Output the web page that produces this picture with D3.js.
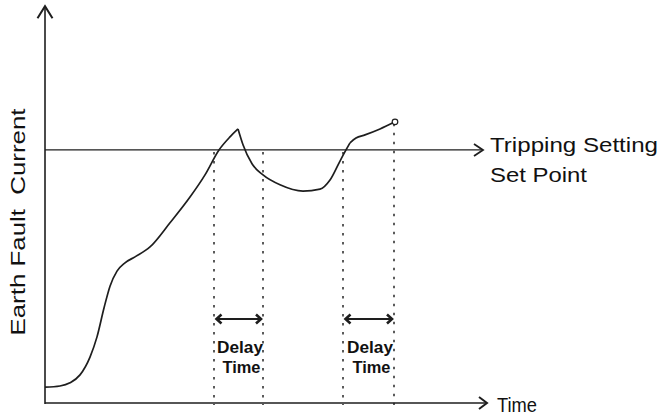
<!DOCTYPE html>
<html><head><meta charset="utf-8">
<script src="https://cdn.jsdelivr.net/npm/d3@7"></script>
<style>body{margin:0;background:#fff}svg{display:block}</style>
</head><body>
<script>
// ---- data (time units 0..110, current units 0..100) ----
const riseTime    = [0, 3.75, 6.25, 8.75, 11.25, 13, 14.75, 16.25, 18, 20, 22.5, 26.25, 31.25, 36.25, 40, 43.5, 46.25, 48.25];
const riseCurrent = [4.0, 4.3, 5.1, 7.1, 11.6, 16.7, 24.0, 29.5, 33.3, 35.4, 36.9, 39.4, 45.5, 52.0, 57.6, 63.9, 67.2, 69.2];
const dipTime     = [48.25, 49.5, 51.75, 54.5, 58.75, 64.5, 68.75, 71.25, 73.75, 75.25, 76.25];
const dipCurrent  = [69.2, 65.2, 60.4, 57.6, 55.1, 53.5, 54.0, 56.3, 61.1, 63.9, 65.7];
const tailTime    = [76.25, 77.75, 80, 83.75, 87.5];
const tailCurrent = [65.7, 66.9, 67.7, 69.2, 71.0];
const setPoint = 63.9;
const delayStarts = [42.25, 74.5];
const delayEnds   = [54.5, 87.25];
const delayEndTops = [63.9, 71.0];
const labels = {y: "Earth Fault\u00a0\u00a0Current", x: "Time", set1: "Tripping Setting", set2: "Set Point", delay1: "Delay", delay2: "Time"};

const W = 664, H = 419;
const x = d3.scaleLinear().domain([0, 110]).range([45, 485]);
const y = d3.scaleLinear().domain([0, 100]).range([403, 7]);

const svg = d3.select("body").append("svg").attr("width", W).attr("height", H);
const ink = "#1e1e1e";
const font = "'Liberation Sans', Arial, sans-serif";

function chevron(tx, ty, dx, dy, back, spread, sw) {
  const nx = -dy, ny = dx;
  const p = [[tx - dx*back + nx*spread, ty - dy*back + ny*spread], [tx, ty], [tx - dx*back - nx*spread, ty - dy*back - ny*spread]];
  svg.append("path").attr("d", d3.line()(p)).attr("fill", "none").attr("stroke", ink)
     .attr("stroke-width", sw).attr("stroke-linejoin", "miter");
}

// dotted guides
delayStarts.forEach((s, i) => {
  [[s, setPoint], [delayEnds[i], delayEndTops[i]]].forEach(([t, top]) => {
    svg.append("line").attr("x1", x(t)).attr("x2", x(t)).attr("y1", y(top) + 2).attr("y2", y(0) + 2)
      .attr("stroke", "#333").attr("stroke-width", 1.6).attr("stroke-dasharray", "2.5,6.5");
  });
});

// axes
svg.append("line").attr("x1", x(0)).attr("x2", x(0)).attr("y1", y(0) + 1).attr("y2", y(100.2))
  .attr("stroke", ink).attr("stroke-width", 1.6);
chevron(x(0), y(100.2), 0, -1, 12, 7.5, 2);
svg.append("line").attr("x1", x(0)).attr("x2", x(110.5)).attr("y1", y(0)).attr("y2", y(0))
  .attr("stroke", ink).attr("stroke-width", 1.6);
chevron(x(110.5), y(0), 1, 0, 8, 6, 2);

// set point line
svg.append("line").attr("x1", x(0)).attr("x2", x(109.5)).attr("y1", y(setPoint)).attr("y2", y(setPoint))
  .attr("stroke", ink).attr("stroke-width", 1.3);
chevron(x(109.5), y(setPoint), 1, 0, 9, 6, 1.8);

// curve
const line = d3.line().x(d => x(d[0])).y(d => y(d[1])).curve(d3.curveMonotoneX);
[[riseTime, riseCurrent], [dipTime, dipCurrent], [tailTime, tailCurrent]].forEach(([ts, cs]) => {
  svg.append("path").datum(ts.map((t, i) => [t, cs[i]])).attr("d", line)
    .attr("fill", "none").attr("stroke", ink).attr("stroke-width", 1.7).attr("stroke-linejoin", "round");
});
svg.append("circle").attr("cx", x(tailTime[tailTime.length - 1])).attr("cy", y(tailCurrent[tailCurrent.length - 1]))
  .attr("r", 2.8).attr("fill", "#fff").attr("stroke", ink).attr("stroke-width", 1.2);

// delay arrows + labels
delayStarts.forEach((s, i) => {
  const x1 = x(s) + 2.5, x2 = x(delayEnds[i]) - 2;
  const yy = 319;
  svg.append("line").attr("x1", x1).attr("x2", x2).attr("y1", yy).attr("y2", yy).attr("stroke", ink).attr("stroke-width", 1.8);
  chevron(x1, yy, -1, 0, 5, 4.5, 2.6);
  chevron(x2, yy, 1, 0, 5, 4.5, 2.6);
  const cx = (x(s) + x(delayEnds[i])) / 2 + 1.5;
  svg.append("text").attr("x", cx).attr("y", 353).attr("text-anchor", "middle")
    .attr("font-family", font).attr("font-weight", "bold").attr("font-size", 17).attr("fill", "#111")
    .attr("textLength", 46).attr("lengthAdjust", "spacingAndGlyphs").text(labels.delay1);
  svg.append("text").attr("x", cx + 1.5).attr("y", 373).attr("text-anchor", "middle")
    .attr("font-family", font).attr("font-weight", "bold").attr("font-size", 17).attr("fill", "#111")
    .attr("textLength", 38).attr("lengthAdjust", "spacingAndGlyphs").text(labels.delay2);
});

// texts
function txt(t, tx, ty, len, size, anchor, rot) {
  const el = svg.append("text").attr("font-family", font).attr("font-size", size).attr("fill", "#111")
    .attr("text-anchor", anchor || "start").attr("textLength", len).attr("lengthAdjust", "spacingAndGlyphs").text(t);
  if (rot) el.attr("transform", `translate(${tx},${ty}) rotate(-90)`);
  else el.attr("x", tx).attr("y", ty);
}
txt(labels.set1, 490, 152, 168, 21);
txt(labels.set2, 490, 182, 97, 21);
txt(labels.x, 497, 412, 40, 21);
txt(labels.y, 25, 222, 227, 21, "middle", true);
</script>
</body></html>
